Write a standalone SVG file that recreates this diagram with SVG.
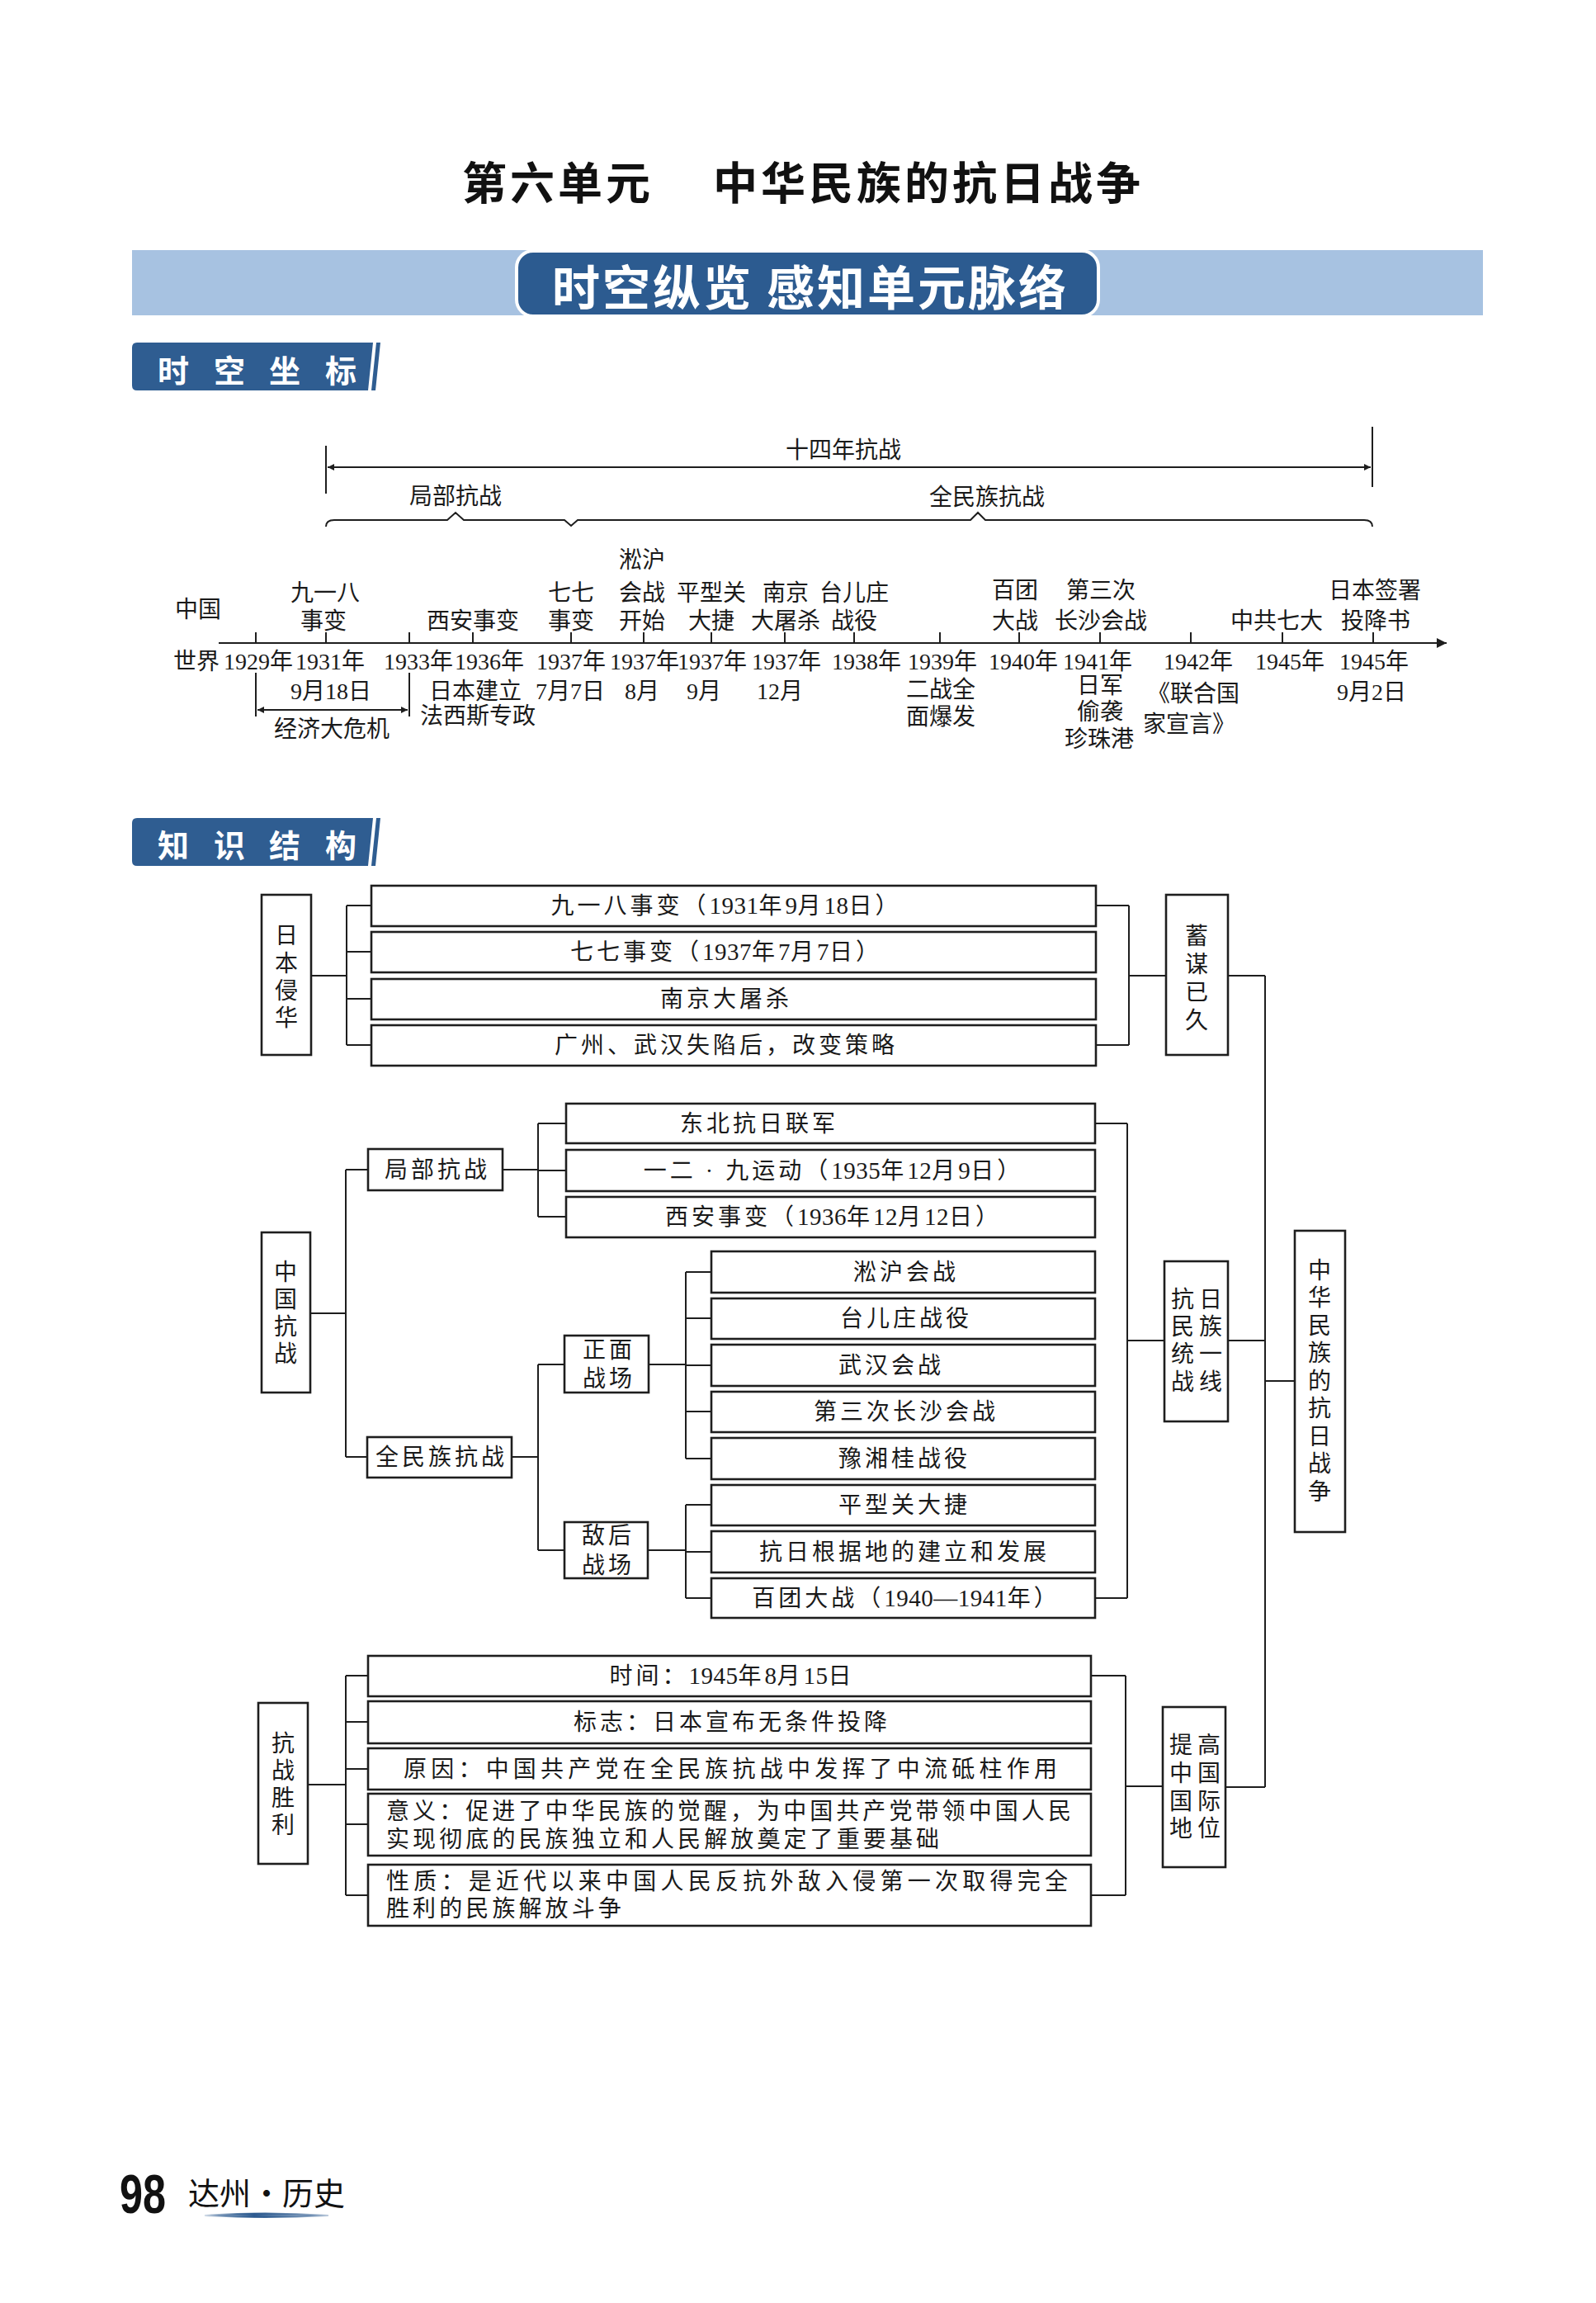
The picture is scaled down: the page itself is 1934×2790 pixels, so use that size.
<svg xmlns="http://www.w3.org/2000/svg" width="1934" height="2790" viewBox="0 0 1934 2790">
<defs>
<style>
.t{font-family:"Liberation Serif","Noto Sans CJK SC",serif;font-size:28px;fill:#1a1a1a;text-anchor:middle;dominant-baseline:central}
.s{font-family:"Liberation Serif","Noto Sans CJK SC",serif;font-size:28px;fill:#1a1a1a;text-anchor:middle;dominant-baseline:central;letter-spacing:4px}
.sl{font-family:"Liberation Serif","Noto Sans CJK SC",serif;font-size:28px;fill:#1a1a1a;dominant-baseline:central;letter-spacing:4.1px}
.n{letter-spacing:0.5px;font-size:29px}
.v{font-family:"Liberation Serif","Noto Sans CJK SC",serif;font-size:28px;fill:#1a1a1a;text-anchor:middle;dominant-baseline:central}
.box{fill:#fff;stroke:#1e1e1e;stroke-width:2.6}
.ln{stroke:#1e1e1e;stroke-width:2;fill:none}
.tab{fill:#2f5d91}
.tabt{font-family:"Noto Sans CJK SC",sans-serif;font-weight:700;font-size:38px;fill:#fff;text-anchor:middle;dominant-baseline:central}
</style>
<marker id="ar" viewBox="0 0 10 10" refX="10" refY="5" markerWidth="8" markerHeight="8" markerUnits="userSpaceOnUse" orient="auto-start-reverse"><path d="M0,0 L10,5 L0,10 Z" fill="#1e1e1e"/></marker>
<marker id="ar2" viewBox="0 0 10 10" refX="10" refY="5" markerWidth="14" markerHeight="12" markerUnits="userSpaceOnUse" orient="auto-start-reverse"><path d="M0,0 L10,5 L0,10 Z" fill="#1e1e1e"/></marker>
<linearGradient id="ul" x1="0" x2="1" y1="0" y2="0"><stop offset="0" stop-color="#2c5a8f" stop-opacity="0.2"/><stop offset="0.4" stop-color="#2c5a8f"/><stop offset="1" stop-color="#2c5a8f" stop-opacity="0.3"/></linearGradient>
</defs>
<rect width="1934" height="2790" fill="#fff"/>

<!-- Title -->
<g id="title" font-family="'Noto Sans CJK SC',sans-serif" font-weight="700" font-size="54" fill="#111" letter-spacing="4">
<text x="560" y="218" dominant-baseline="central">第六单元</text>
<text x="864" y="218" dominant-baseline="central">中华民族的抗日战争</text>
</g>

<!-- Header band -->
<g id="header-band">
<rect x="160" y="303" width="1637" height="79" fill="#a7c2e1"/>
<rect x="626" y="304" width="705" height="79" rx="20" fill="#2c5b90" stroke="#fff" stroke-width="4"/>
<text x="982" y="345" font-family="'Noto Sans CJK SC',sans-serif" font-weight="700" font-size="58" fill="#fff" text-anchor="middle" dominant-baseline="central" letter-spacing="3">时空纵览 感知单元脉络</text>
</g>

<!-- Tab 1 -->
<g id="tab-shikong">
<path class="tab" d="M166,415 L452,415 L446,473 L166,473 Q160,473 160,467 L160,421 Q160,415 166,415 Z"/>
<path d="M456,415 L461,415 L455,473 L450,473 Z" fill="#2f5d91"/>
<text class="tabt"><tspan x="210" y="446">时</tspan><tspan x="278" y="446">空</tspan><tspan x="345" y="446">坐</tspan><tspan x="413" y="446">标</tspan></text>
</g>

<!-- Timeline -->
<g id="timeline">
<line class="ln" x1="395" y1="540" x2="395" y2="598"/>
<line class="ln" x1="1663" y1="517" x2="1663" y2="590"/>
<line class="ln" x1="397" y1="566" x2="1661" y2="566" marker-start="url(#ar)" marker-end="url(#ar)"/>
<text class="t" x="1022" y="545">十四年抗战</text>
<path class="ln" d="M395,638 Q395,630 405,630 L542,630 L552,621 L562,630 L684,630 L692,637 L700,630 L1176,630 L1185,621 L1194,630 L1653,630 Q1663,630 1663,638"/>
<text class="t" x="552" y="601">局部抗战</text>
<text class="t" x="1196" y="602">全民族抗战</text>
<line class="ln" x1="265" y1="779" x2="1753" y2="779" marker-end="url(#ar2)"/>
<path class="ln" d="M310,766V779 M395,766V779 M496,766V779 M573,766V779 M692,766V779 M780,766V779 M862,766V779 M951,766V779 M1035,766V779 M1139,766V779 M1235,766V779 M1333,766V779 M1443,766V779 M1554,766V779 M1664,766V779"/>
<text class="t" x="240" y="738">中国</text>
<text class="t" x="394" y="718">九一八</text><text class="t" x="392" y="752">事变</text>
<text class="t" x="573" y="752">西安事变</text>
<text class="t" x="692" y="718">七七</text><text class="t" x="692" y="752">事变</text>
<text class="t" x="778" y="678">淞沪</text><text class="t" x="778" y="718">会战</text><text class="t" x="778" y="752">开始</text>
<text class="t" x="862" y="718">平型关</text><text class="t" x="862" y="752">大捷</text>
<text class="t" x="952" y="718">南京</text><text class="t" x="952" y="752">大屠杀</text>
<text class="t" x="1035" y="718">台儿庄</text><text class="t" x="1035" y="752">战役</text>
<text class="t" x="1230" y="715">百团</text><text class="t" x="1230" y="752">大战</text>
<text class="t" x="1334" y="715">第三次</text><text class="t" x="1334" y="752">长沙会战</text>
<text class="t" x="1547" y="752">中共七大</text>
<text class="t" x="1666" y="715">日本签署</text><text class="t" x="1667" y="752">投降书</text>
<text class="t" x="238" y="801">世界</text>
<text class="t" x="313" y="801">1929年</text>
<text class="t" x="400" y="801">1931年</text>
<text class="t" x="507" y="801">1933年</text>
<text class="t" x="593" y="801">1936年</text>
<text class="t" x="692" y="801">1937年</text>
<text class="t" x="781" y="801">1937年</text>
<text class="t" x="863" y="801">1937年</text>
<text class="t" x="953" y="801">1937年</text>
<text class="t" x="1050" y="801">1938年</text>
<text class="t" x="1142" y="801">1939年</text>
<text class="t" x="1240" y="801">1940年</text>
<text class="t" x="1330" y="801">1941年</text>
<text class="t" x="1452" y="801">1942年</text>
<text class="t" x="1563" y="801">1945年</text>
<text class="t" x="1665" y="801">1945年</text>
<text class="t" x="401" y="837">9月18日</text>
<text class="t" x="576" y="837">日本建立</text>
<text class="t" x="691" y="837">7月7日</text>
<text class="t" x="778" y="837">8月</text>
<text class="t" x="853" y="837">9月</text>
<text class="t" x="945" y="837">12月</text>
<text class="t" x="1140" y="835">二战全</text>
<text class="t" x="1333" y="830">日军</text>
<text class="t" x="1446" y="840">《联合国</text>
<text class="t" x="1662" y="838">9月2日</text>
<text class="t" x="579" y="867">法西斯专政</text>
<text class="t" x="1140" y="868">面爆发</text>
<text class="t" x="1333" y="862">偷袭</text>
<text class="t" x="1441" y="877">家宣言》</text>
<text class="t" x="1332" y="895">珍珠港</text>
<line class="ln" x1="310" y1="815" x2="310" y2="868"/>
<line class="ln" x1="496" y1="815" x2="496" y2="868"/>
<line class="ln" x1="312" y1="860" x2="494" y2="860" marker-start="url(#ar)" marker-end="url(#ar)"/>
<text class="t" x="402" y="883">经济大危机</text>
</g>

<!-- Tab 2 -->
<g id="tab-zhishi">
<path class="tab" d="M166,991 L452,991 L446,1049 L166,1049 Q160,1049 160,1043 L160,997 Q160,991 166,991 Z"/>
<path d="M456,991 L461,991 L455,1049 L450,1049 Z" fill="#2f5d91"/>
<text class="tabt"><tspan x="210" y="1021">知</tspan><tspan x="278" y="1021">识</tspan><tspan x="345" y="1021">结</tspan><tspan x="413" y="1021">构</tspan></text>
</g>

<!-- Connectors -->
<g id="connectors">
<path class="ln" d="M377,1182H420 M420,1097V1266 M420,1097H450 M420,1153H450 M420,1210H450 M420,1266H450"/>
<path class="ln" d="M1328,1097H1368 M1328,1266H1368 M1368,1097V1266 M1368,1182H1413"/>
<path class="ln" d="M1488,1182H1533 M1533,1182V2165 M1488,1624H1533 M1533,1673H1569 M1485,2165H1533"/>
<path class="ln" d="M376,1591H419 M419,1417V1765 M419,1417H446 M419,1765H445"/>
<path class="ln" d="M609,1417H652 M652,1361V1474 M652,1361H686 M652,1418H686 M652,1474H686"/>
<path class="ln" d="M620,1765H652 M652,1653V1878 M652,1653H684 M652,1878H684"/>
<path class="ln" d="M786,1653H831 M831,1541V1767 M831,1541H862 M831,1597H862 M831,1654H862 M831,1710H862 M831,1767H862"/>
<path class="ln" d="M785,1878H831 M831,1823V1936 M831,1823H862 M831,1880H862 M831,1936H862"/>
<path class="ln" d="M1327,1361H1366 M1327,1936H1366 M1366,1361V1936 M1366,1624H1411"/>
<path class="ln" d="M373,2162H419 M419,2030V2296 M419,2030H446 M419,2086H446 M419,2143H446 M419,2210H446 M419,2296H446"/>
<path class="ln" d="M1322,2030H1364 M1322,2296H1364 M1364,2030V2296 M1364,2164H1409"/>
</g>

<!-- Nodes -->
<g id="n-ribenqinhua"><rect class="box" x="317" y="1084" width="60" height="194"/><text class="v"><tspan x="347" y="1133">日</tspan><tspan x="347" y="1167">本</tspan><tspan x="347" y="1200">侵</tspan><tspan x="347" y="1233">华</tspan></text></g>
<g id="n-918"><rect class="box" x="450" y="1073" width="878" height="49"/><text class="s" x="880" y="1097">九一八事变（<tspan class="n">1931</tspan>年<tspan class="n">9</tspan>月<tspan class="n">18</tspan>日）</text></g>
<g id="n-77"><rect class="box" x="450" y="1129" width="878" height="49"/><text class="s" x="880" y="1153">七七事变（<tspan class="n">1937</tspan>年<tspan class="n">7</tspan>月<tspan class="n">7</tspan>日）</text></g>
<g id="n-nanjing"><rect class="box" x="450" y="1186" width="878" height="49"/><text class="s" x="880" y="1210">南京大屠杀</text></g>
<g id="n-guangzhou"><rect class="box" x="450" y="1242" width="878" height="49"/><text class="s" x="880" y="1266">广州、武汉失陷后，改变策略</text></g>
<g id="n-xumou"><rect class="box" x="1413" y="1084" width="75" height="194"/><text class="v"><tspan x="1450" y="1134">蓄</tspan><tspan x="1450" y="1168">谋</tspan><tspan x="1450" y="1202">已</tspan><tspan x="1450" y="1236">久</tspan></text></g>

<g id="n-zhongguokangzhan"><rect class="box" x="317" y="1493" width="59" height="194"/><text class="v"><tspan x="346" y="1541">中</tspan><tspan x="346" y="1574">国</tspan><tspan x="346" y="1607">抗</tspan><tspan x="346" y="1640">战</tspan></text></g>
<g id="n-jubu"><rect class="box" x="446" y="1392" width="163" height="50"/><text class="s" x="530" y="1417">局部抗战</text></g>
<g id="n-quanminzu"><rect class="box" x="445" y="1741" width="175" height="49"/><text class="s" x="535" y="1765">全民族抗战</text></g>
<g id="n-dongbei"><rect class="box" x="686" y="1337" width="641" height="48"/><text class="s" x="920" y="1361">东北抗日联军</text></g>
<g id="n-129"><rect class="box" x="686" y="1393" width="641" height="50"/><text class="s" x="1010" y="1418">一二 · 九运动（<tspan class="n">1935</tspan>年<tspan class="n">12</tspan>月<tspan class="n">9</tspan>日）</text></g>
<g id="n-xian"><rect class="box" x="686" y="1450" width="641" height="49"/><text class="s" x="1010" y="1474">西安事变（<tspan class="n">1936</tspan>年<tspan class="n">12</tspan>月<tspan class="n">12</tspan>日）</text></g>
<g id="n-zhengmian"><rect class="box" x="684" y="1618" width="102" height="69"/><text class="s"><tspan x="738" y="1635">正面</tspan><tspan x="738" y="1670">战场</tspan></text></g>
<g id="n-dihou"><rect class="box" x="684" y="1844" width="101" height="68"/><text class="s"><tspan x="737" y="1860">敌后</tspan><tspan x="737" y="1896">战场</tspan></text></g>
<g id="n-songhu"><rect class="box" x="862" y="1516" width="465" height="50"/><text class="s" x="1098" y="1541">淞沪会战</text></g>
<g id="n-taierzhuang"><rect class="box" x="862" y="1573" width="465" height="49"/><text class="s" x="1098" y="1597">台儿庄战役</text></g>
<g id="n-wuhan"><rect class="box" x="862" y="1629" width="465" height="50"/><text class="s" x="1080" y="1654">武汉会战</text></g>
<g id="n-changsha"><rect class="box" x="862" y="1686" width="465" height="49"/><text class="s" x="1098" y="1710">第三次长沙会战</text></g>
<g id="n-yuxianggui"><rect class="box" x="862" y="1742" width="465" height="50"/><text class="s" x="1096" y="1767">豫湘桂战役</text></g>
<g id="n-pingxingguan"><rect class="box" x="862" y="1799" width="465" height="49"/><text class="s" x="1096" y="1823">平型关大捷</text></g>
<g id="n-genjudi"><rect class="box" x="862" y="1855" width="465" height="50"/><text class="s" x="1096" y="1880">抗日根据地的建立和发展</text></g>
<g id="n-baituan"><rect class="box" x="862" y="1912" width="465" height="48"/><text class="s" x="1098" y="1936">百团大战（<tspan class="n">1940—1941</tspan>年）</text></g>
<g id="n-tongyizhanxian"><rect class="box" x="1411" y="1528" width="77" height="194"/><text class="v"><tspan x="1433" y="1574">抗</tspan><tspan x="1467" y="1574">日</tspan><tspan x="1433" y="1607">民</tspan><tspan x="1467" y="1607">族</tspan><tspan x="1433" y="1640">统</tspan><tspan x="1467" y="1640">一</tspan><tspan x="1433" y="1674">战</tspan><tspan x="1467" y="1674">线</tspan></text></g>
<g id="n-root"><rect class="box" x="1569" y="1491" width="61" height="365"/><text class="v"><tspan x="1599" y="1539">中</tspan><tspan x="1599" y="1572">华</tspan><tspan x="1599" y="1606">民</tspan><tspan x="1599" y="1639">族</tspan><tspan x="1599" y="1673">的</tspan><tspan x="1599" y="1706">抗</tspan><tspan x="1599" y="1740">日</tspan><tspan x="1599" y="1773">战</tspan><tspan x="1599" y="1807">争</tspan></text></g>

<g id="n-shengli"><rect class="box" x="313" y="2063" width="60" height="195"/><text class="v"><tspan x="343" y="2112">抗</tspan><tspan x="343" y="2145">战</tspan><tspan x="343" y="2178">胜</tspan><tspan x="343" y="2211">利</tspan></text></g>
<g id="n-shijian"><rect class="box" x="446" y="2006" width="876" height="49"/><text class="s" x="887" y="2030">时间：<tspan class="n">1945</tspan>年<tspan class="n">8</tspan>月<tspan class="n">15</tspan>日</text></g>
<g id="n-biaozhi"><rect class="box" x="446" y="2061" width="876" height="51"/><text class="s" x="887" y="2086">标志：日本宣布无条件投降</text></g>
<g id="n-yuanyin"><rect class="box" x="446" y="2118" width="876" height="50"/><text class="sl" x="489" y="2143" textLength="796" lengthAdjust="spacing">原因：中国共产党在全民族抗战中发挥了中流砥柱作用</text></g>
<g id="n-yiyi"><rect class="box" x="446" y="2173" width="876" height="75"/><text class="sl" x="468" y="2194" textLength="834" lengthAdjust="spacing">意义：促进了中华民族的觉醒，为中国共产党带领中国人民</text><text class="sl" x="468" y="2228">实现彻底的民族独立和人民解放奠定了重要基础</text></g>
<g id="n-xingzhi"><rect class="box" x="446" y="2259" width="876" height="74"/><text class="sl" x="468" y="2279" textLength="830" lengthAdjust="spacing">性质：是近代以来中国人民反抗外敌入侵第一次取得完全</text><text class="sl" x="468" y="2312">胜利的民族解放斗争</text></g>
<g id="n-tigao"><rect class="box" x="1409" y="2068" width="76" height="194"/><text class="v"><tspan x="1431" y="2114">提</tspan><tspan x="1465" y="2114">高</tspan><tspan x="1431" y="2148">中</tspan><tspan x="1465" y="2148">国</tspan><tspan x="1431" y="2182">国</tspan><tspan x="1465" y="2182">际</tspan><tspan x="1431" y="2215">地</tspan><tspan x="1465" y="2215">位</tspan></text></g>

<!-- Footer -->
<g id="footer">
<text x="145" y="2658" font-family="'Liberation Sans',sans-serif" font-weight="700" font-size="66" fill="#111" dominant-baseline="central" textLength="56" lengthAdjust="spacingAndGlyphs">98</text>
<text x="228" y="2654" font-family="'Noto Sans CJK SC',sans-serif" font-size="38" fill="#111" dominant-baseline="central">达州·历史</text>
<path d="M248,2684 Q320,2679 398,2684 Q320,2688 248,2684 Z" fill="url(#ul)" stroke="url(#ul)" stroke-width="2"/>
</g>
</svg>
